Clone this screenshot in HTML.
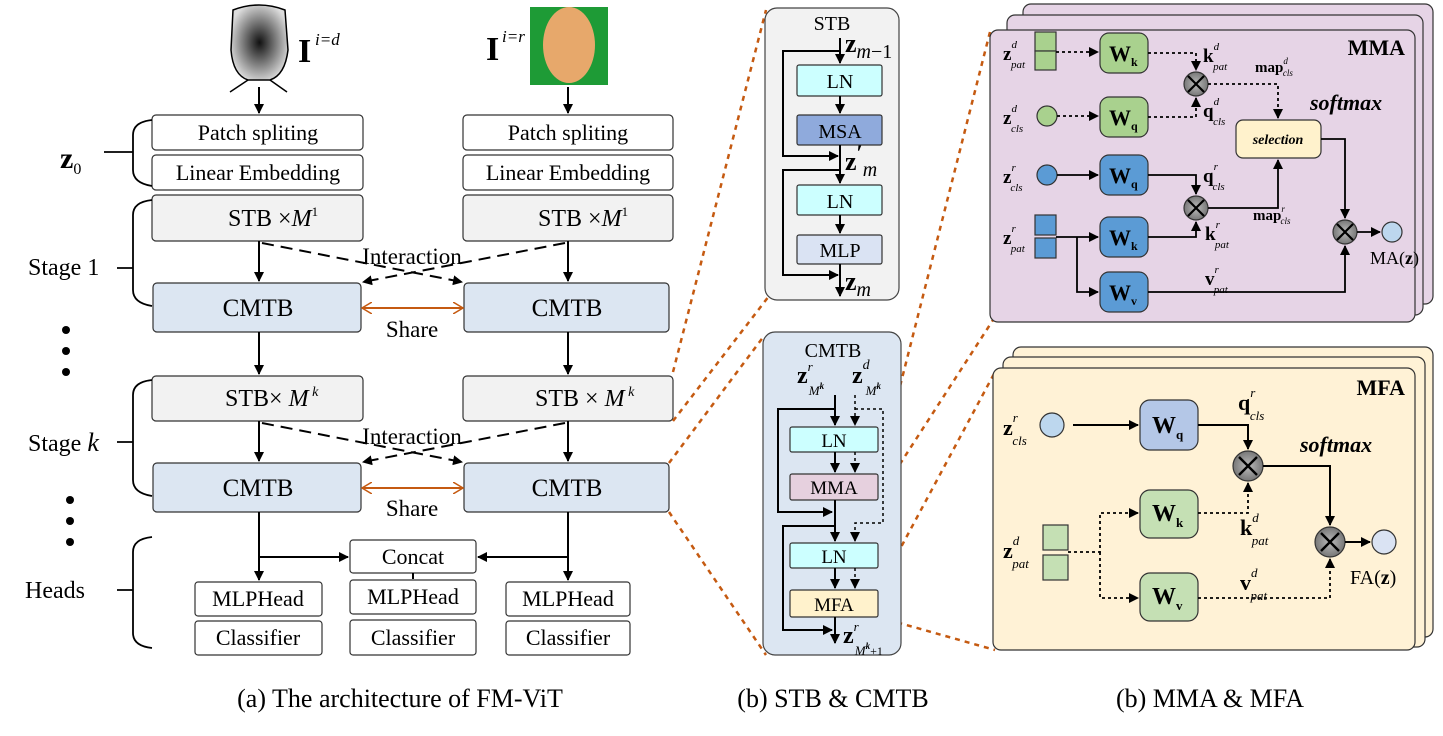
<!DOCTYPE html>
<html><head><meta charset="utf-8"><style>
html,body{margin:0;padding:0;background:#fff;}
svg{display:block;font-family:"Liberation Serif",serif;}
</style></head><body>
<svg width="1443" height="736" viewBox="0 0 1443 736" xmlns="http://www.w3.org/2000/svg">
<defs>
<marker id="a" markerWidth="10" markerHeight="10" refX="9" refY="5" orient="auto" markerUnits="userSpaceOnUse"><path d="M0,0 L10,5 L0,10 Z" fill="#000"/></marker>
<marker id="o" markerWidth="12" markerHeight="12" refX="10" refY="6" orient="auto-start-reverse" markerUnits="userSpaceOnUse"><path d="M0,0 L10,6 L0,12" fill="none" stroke="#c55a11" stroke-width="1.5"/></marker>
<radialGradient id="dg" cx="50%" cy="50%" r="55%"><stop offset="0" stop-color="#111"/><stop offset="0.5" stop-color="#777"/><stop offset="1" stop-color="#ddd"/></radialGradient>
<radialGradient id="cg"><stop offset="0" stop-color="#bbb"/><stop offset="1" stop-color="#777"/></radialGradient>
</defs>

<!-- faces -->
<path d="M233,10 Q259,0 285,10 L288,50 Q285,75 270,80 L248,80 Q233,75 231,50 Z" fill="url(#dg)" stroke="#000" stroke-width="1.5"/>
<path d="M248,80 L230,92 M270,80 L287,92" stroke="#000" stroke-width="1.5"/>
<rect x="530" y="7" width="78" height="78" fill="#1e9b36"/>
<ellipse cx="569" cy="45" rx="26" ry="38" fill="#e7a86b"/>
<text x="298" y="62" font-size="34" font-weight="bold">I</text><text x="315" y="45" font-size="17" font-style="italic">i=d</text>
<text x="486" y="60" font-size="34" font-weight="bold">I</text><text x="502" y="42" font-size="17" font-style="italic">i=r</text>

<g stroke="#000" stroke-width="2" fill="none">
<line x1="259" y1="87" x2="259" y2="113" marker-end="url(#a)"/>
<line x1="568" y1="87" x2="568" y2="113" marker-end="url(#a)"/>
</g>

<g stroke="#333" stroke-width="1.2">
<rect x="152" y="115" width="211" height="35" rx="4" fill="#fff"/>
<rect x="152" y="155" width="211" height="35" rx="4" fill="#fff"/>
<rect x="463" y="115" width="210" height="35" rx="4" fill="#fff"/>
<rect x="463" y="155" width="210" height="35" rx="4" fill="#fff"/>
<rect x="152" y="195" width="211" height="46" rx="4" fill="#f2f2f2"/>
<rect x="463" y="195" width="210" height="46" rx="4" fill="#f2f2f2"/>
<rect x="153" y="283" width="208" height="49" rx="4" fill="#dce6f2"/>
<rect x="464" y="283" width="205" height="49" rx="4" fill="#dce6f2"/>
<rect x="152" y="376" width="211" height="45" rx="4" fill="#f2f2f2"/>
<rect x="463" y="376" width="210" height="45" rx="4" fill="#f2f2f2"/>
<rect x="153" y="463" width="208" height="49" rx="4" fill="#dce6f2"/>
<rect x="464" y="463" width="205" height="49" rx="4" fill="#dce6f2"/>
<rect x="350" y="540" width="126" height="33" rx="3" fill="#fff"/>
<rect x="195" y="582" width="127" height="34" rx="3" fill="#fff"/>
<rect x="350" y="580" width="126" height="34" rx="3" fill="#fff"/>
<rect x="506" y="582" width="124" height="34" rx="3" fill="#fff"/>
<rect x="195" y="621" width="127" height="34" rx="3" fill="#fff"/>
<rect x="350" y="620" width="126" height="35" rx="3" fill="#fff"/>
<rect x="506" y="621" width="124" height="34" rx="3" fill="#fff"/>
</g>

<g font-size="22" text-anchor="middle">
<text x="258" y="140">Patch spliting</text>
<text x="258" y="180">Linear Embedding</text>
<text x="568" y="140">Patch spliting</text>
<text x="568" y="180">Linear Embedding</text>
<text x="258" y="316" font-size="25">CMTB</text>
<text x="567" y="316" font-size="25">CMTB</text>
<text x="258" y="496" font-size="25">CMTB</text>
<text x="567" y="496" font-size="25">CMTB</text>
<text x="413" y="564">Concat</text>
<text x="258" y="606">MLPHead</text>
<text x="413" y="604">MLPHead</text>
<text x="568" y="606">MLPHead</text>
<text x="258" y="645">Classifier</text>
<text x="413" y="645">Classifier</text>
<text x="568" y="645">Classifier</text>
<text x="412" y="264" font-size="23">Interaction</text>
<text x="412" y="444" font-size="23">Interaction</text>
<text x="412" y="337" font-size="23">Share</text>
<text x="412" y="516" font-size="23">Share</text>
</g>
<g font-size="24">
<text x="228" y="226">STB <tspan>×</tspan><tspan font-style="italic">M</tspan><tspan font-size="13" dy="-10">1</tspan></text>
<text x="538" y="226">STB <tspan>×</tspan><tspan font-style="italic">M</tspan><tspan font-size="13" dy="-10">1</tspan></text>
<text x="225" y="406">STB<tspan>× </tspan><tspan font-style="italic">M</tspan><tspan font-size="14" dy="-10" font-style="italic"> k</tspan></text>
<text x="535" y="406">STB <tspan>× </tspan><tspan font-style="italic">M</tspan><tspan font-size="14" dy="-10" font-style="italic"> k</tspan></text>
<text x="60" y="168" font-size="30" font-weight="bold">z<tspan font-size="16" font-weight="normal" dy="6">0</tspan></text>
<text x="28" y="275">Stage 1</text>
<text x="28" y="451">Stage <tspan font-style="italic" font-size="26">k</tspan></text>
<text x="25" y="598">Heads</text>
</g>

<!-- braces -->
<g stroke="#000" stroke-width="1.8" fill="none">
<path d="M104,152 L133,152 M152,120 Q133,122 133,135 L133,170 Q133,183 152,186"/>
<path d="M117,268 L133,268 M152,200 Q133,202 133,215 L133,290 Q133,303 152,306"/>
<path d="M117,442 L133,442 M152,380 Q133,382 133,395 L133,480 Q133,493 152,496"/>
<path d="M117,590 L133,590 M152,537 Q133,539 133,552 L133,633 Q133,646 152,648"/>
</g>
<g fill="#000">
<circle cx="66" cy="330" r="4"/><circle cx="66" cy="351" r="4"/><circle cx="66" cy="372" r="4"/>
<circle cx="70" cy="500" r="4"/><circle cx="70" cy="521" r="4"/><circle cx="70" cy="542" r="4"/>
</g>

<g stroke="#000" stroke-width="2" fill="none">
<line x1="259" y1="241" x2="259" y2="281" marker-end="url(#a)"/>
<line x1="568" y1="241" x2="568" y2="281" marker-end="url(#a)"/>
<line x1="259" y1="332" x2="259" y2="374" marker-end="url(#a)"/>
<line x1="568" y1="332" x2="568" y2="374" marker-end="url(#a)"/>
<line x1="259" y1="421" x2="259" y2="461" marker-end="url(#a)"/>
<line x1="568" y1="421" x2="568" y2="461" marker-end="url(#a)"/>
<polyline points="259,512 259,557 348,557" marker-end="url(#a)"/>
<polyline points="568,512 568,557 478,557" marker-end="url(#a)"/>
<line x1="259" y1="557" x2="259" y2="580" marker-end="url(#a)"/>
<line x1="568" y1="557" x2="568" y2="580" marker-end="url(#a)"/>
<line x1="413" y1="573" x2="413" y2="579"/>
</g>
<g stroke="#000" stroke-width="2" fill="none" stroke-dasharray="12,7">
<line x1="262" y1="243" x2="462" y2="282" marker-end="url(#a)"/>
<line x1="565" y1="243" x2="363" y2="282" marker-end="url(#a)"/>
<line x1="262" y1="423" x2="462" y2="462" marker-end="url(#a)"/>
<line x1="565" y1="423" x2="363" y2="462" marker-end="url(#a)"/>
</g>
<g stroke="#c55a11" stroke-width="2">
<line x1="362" y1="308" x2="463" y2="308" marker-start="url(#o)" marker-end="url(#o)"/>
<line x1="362" y1="488" x2="463" y2="488" marker-start="url(#o)" marker-end="url(#o)"/>
</g>

<!-- orange dotted zoom connectors -->
<g stroke="#c55a11" stroke-width="2.5" stroke-dasharray="5,5" fill="none">
<line x1="673" y1="372" x2="766" y2="10"/>
<line x1="673" y1="421" x2="769" y2="296"/>
<line x1="669" y1="463" x2="764" y2="336"/>
<line x1="669" y1="512" x2="766" y2="655"/>
<line x1="878" y1="473" x2="991" y2="28"/>
<line x1="878" y1="498" x2="993" y2="320"/>
<line x1="878" y1="590" x2="995" y2="372"/>
<line x1="878" y1="617" x2="995" y2="650"/>
</g>

<!-- STB panel -->
<rect x="765" y="8" width="134" height="292" rx="12" fill="#f2f2f2" stroke="#444" stroke-width="1.2"/>
<text x="832" y="30" font-size="20" text-anchor="middle">STB</text>
<g stroke="#333" stroke-width="1.2">
<rect x="797" y="65" width="85" height="31" rx="2" fill="#ccffff"/>
<rect x="797" y="115" width="85" height="30" rx="2" fill="#8faadc"/>
<rect x="797" y="185" width="85" height="30" rx="2" fill="#ccffff"/>
<rect x="797" y="235" width="85" height="29" rx="2" fill="#dae3f3"/>
</g>
<g font-size="20" text-anchor="middle">
<text x="840" y="88">LN</text><text x="840" y="138">MSA</text><text x="840" y="208">LN</text><text x="840" y="257">MLP</text>
</g>
<g stroke="#000" stroke-width="2" fill="none">
<line x1="840" y1="38" x2="840" y2="63" marker-end="url(#a)"/>
<line x1="840" y1="96" x2="840" y2="113" marker-end="url(#a)"/>
<line x1="840" y1="145" x2="840" y2="183" marker-end="url(#a)"/>
<line x1="840" y1="215" x2="840" y2="233" marker-end="url(#a)"/>
<line x1="840" y1="264" x2="840" y2="296" marker-end="url(#a)"/>
<polyline points="840,51 783,51 783,156 838,156" marker-end="url(#a)"/>
<polyline points="840,170 783,170 783,275 838,275" marker-end="url(#a)"/>
</g>
<text x="845" y="52" font-size="26" font-weight="bold">z<tspan font-size="20" font-weight="normal" font-style="italic" dy="6">m</tspan><tspan font-size="20" font-weight="normal" dy="0">−1</tspan></text>
<text x="845" y="170" font-size="26" font-weight="bold">z<tspan font-size="22" dy="-10">′</tspan><tspan font-size="20" font-weight="normal" font-style="italic" dy="16">m</tspan></text>
<text x="845" y="290" font-size="26" font-weight="bold">z<tspan font-size="20" font-weight="normal" font-style="italic" dy="6">m</tspan></text>

<!-- CMTB panel -->
<rect x="763" y="332" width="138" height="323" rx="12" fill="#dce6f2" stroke="#444" stroke-width="1.2"/>
<text x="833" y="357" font-size="20" text-anchor="middle">CMTB</text>
<text x="797" y="383" font-size="24" font-weight="bold">z<tspan font-size="13" font-weight="normal" font-style="italic" dy="-12">r</tspan><tspan font-size="13" font-weight="normal" font-style="italic" dx="-4" dy="24">M</tspan><tspan font-size="9" font-style="italic" dy="-6">k</tspan></text>
<text x="852" y="383" font-size="24" font-weight="bold">z<tspan font-size="14" font-weight="normal" font-style="italic" dy="-14">d</tspan><tspan font-size="13" font-weight="normal" font-style="italic" dx="-4" dy="26">M</tspan><tspan font-size="9" font-style="italic" dy="-6">k</tspan></text>
<g stroke="#333" stroke-width="1.2">
<rect x="790" y="427" width="88" height="25" rx="2" fill="#ccffff"/>
<rect x="790" y="474" width="88" height="26" rx="2" fill="#e6d0de"/>
<rect x="790" y="543" width="88" height="25" rx="2" fill="#ccffff"/>
<rect x="790" y="590" width="88" height="27" rx="2" fill="#fff2cc"/>
</g>
<g font-size="19" text-anchor="middle">
<text x="834" y="447">LN</text><text x="834" y="494">MMA</text><text x="834" y="563">LN</text><text x="834" y="611">MFA</text>
</g>
<g stroke="#000" stroke-width="2" fill="none">
<line x1="835" y1="395" x2="835" y2="425" marker-end="url(#a)"/>
<line x1="835" y1="452" x2="835" y2="472" marker-end="url(#a)"/>
<line x1="835" y1="500" x2="835" y2="541" marker-end="url(#a)"/>
<line x1="835" y1="568" x2="835" y2="588" marker-end="url(#a)"/>
<line x1="835" y1="617" x2="835" y2="643" marker-end="url(#a)"/>
<polyline points="835,409 778,409 778,512 832,512" marker-end="url(#a)"/>
<polyline points="835,526 783,526 783,630 832,630" marker-end="url(#a)"/>
</g>
<g stroke="#000" stroke-width="1.5" fill="none" stroke-dasharray="3,3">
<line x1="855" y1="395" x2="855" y2="425" marker-end="url(#a)"/>
<polyline points="855,409 883,409 883,523 855,523 855,541" marker-end="url(#a)"/>
<line x1="855" y1="452" x2="855" y2="472" marker-end="url(#a)"/>
<line x1="855" y1="568" x2="855" y2="588" marker-end="url(#a)"/>
</g>
<text x="843" y="643" font-size="24" font-weight="bold">z<tspan font-size="13" font-weight="normal" font-style="italic" dy="-12">r</tspan><tspan font-size="13" font-weight="normal" font-style="italic" dx="-4" dy="24">M</tspan><tspan font-size="9" font-style="italic" dy="-6">k</tspan><tspan font-size="12" font-weight="normal" dy="6">+1</tspan></text>

<!-- MMA panel -->
<g stroke="#333" stroke-width="1.2" fill="#e6d4e6">
<rect x="1023" y="4" width="410" height="300" rx="8"/>
<rect x="1007" y="15" width="416" height="300" rx="8"/>
<rect x="990" y="30" width="425" height="292" rx="8"/>
</g>
<text x="1405" y="55" font-size="22" font-weight="bold" text-anchor="end">MMA</text>
<text x="1310" y="110" font-size="22" font-weight="bold" font-style="italic">softmax</text>
<g stroke="#333" stroke-width="1.2">
<rect x="1035" y="32" width="21" height="19" fill="#a9d18e"/><rect x="1035" y="51" width="21" height="19" fill="#a9d18e"/>
<circle cx="1047" cy="116" r="10" fill="#a9d18e"/>
<circle cx="1047" cy="175" r="10" fill="#5b9bd5"/>
<rect x="1035" y="215" width="21" height="20" fill="#5b9bd5"/><rect x="1035" y="238" width="21" height="20" fill="#5b9bd5"/>
<rect x="1100" y="33" width="48" height="40" rx="9" fill="#a9d18e"/>
<rect x="1100" y="97" width="48" height="40" rx="9" fill="#a9d18e"/>
<rect x="1100" y="155" width="48" height="40" rx="9" fill="#5b9bd5"/>
<rect x="1100" y="217" width="48" height="40" rx="9" fill="#5b9bd5"/>
<rect x="1100" y="272" width="48" height="40" rx="9" fill="#5b9bd5"/>
<rect x="1236" y="120" width="85" height="38" rx="7" fill="#fff2cc"/>
<circle cx="1196" cy="84" r="12" fill="url(#cg)"/>
<circle cx="1196" cy="208" r="12" fill="url(#cg)"/>
<circle cx="1345" cy="232" r="12" fill="url(#cg)"/>
<circle cx="1392" cy="232" r="10" fill="#bdd7ee"/>
</g>
<g stroke="#000" stroke-width="2.2">
<path d="M1188,76 L1204,92 M1204,76 L1188,92"/>
<path d="M1188,200 L1204,216 M1204,200 L1188,216"/>
<path d="M1337,224 L1353,240 M1353,224 L1337,240"/>
</g>
<g font-size="22" font-weight="bold">
<text x="1109" y="61">W<tspan font-size="12" dy="5">k</tspan></text>
<text x="1109" y="125">W<tspan font-size="12" dy="5">q</tspan></text>
<text x="1109" y="183">W<tspan font-size="12" dy="5">q</tspan></text>
<text x="1109" y="245">W<tspan font-size="12" dy="5">k</tspan></text>
<text x="1109" y="300">W<tspan font-size="12" dy="5">v</tspan></text>
</g>
<text x="1278" y="144" font-size="14" font-weight="bold" font-style="italic" text-anchor="middle">selection</text>
<g stroke="#000" stroke-width="1.8" fill="none" stroke-dasharray="3,3">
<line x1="1056" y1="52" x2="1098" y2="52" marker-end="url(#a)"/>
<line x1="1057" y1="116" x2="1098" y2="116" marker-end="url(#a)"/>
<polyline points="1148,53 1196,53 1196,70" marker-end="url(#a)"/>
<polyline points="1148,117 1196,117 1196,98" marker-end="url(#a)"/>
<polyline points="1208,84 1278,84 1278,118" marker-end="url(#a)"/>
</g>
<g stroke="#000" stroke-width="1.8" fill="none">
<line x1="1057" y1="175" x2="1098" y2="175" marker-end="url(#a)"/>
<polyline points="1148,175 1196,175 1196,194" marker-end="url(#a)"/>
<polyline points="1148,237 1196,237 1196,222" marker-end="url(#a)"/>
<line x1="1056" y1="237" x2="1098" y2="237" marker-end="url(#a)"/>
<polyline points="1077,237 1077,292 1098,292" marker-end="url(#a)"/>
<polyline points="1208,208 1278,208 1278,160" marker-end="url(#a)"/>
<polyline points="1321,139 1345,139 1345,218" marker-end="url(#a)"/>
<polyline points="1148,292 1345,292 1345,246" marker-end="url(#a)"/>
<line x1="1357" y1="232" x2="1380" y2="232" marker-end="url(#a)"/>
</g>
<g font-size="19" font-weight="bold">
<text x="1003" y="60">z<tspan font-size="11" font-weight="normal" font-style="italic" dy="-12">d</tspan><tspan font-size="11" font-weight="normal" font-style="italic" dx="-6" dy="20">pat</tspan></text>
<text x="1003" y="124">z<tspan font-size="11" font-weight="normal" font-style="italic" dy="-12">d</tspan><tspan font-size="11" font-weight="normal" font-style="italic" dx="-6" dy="20">cls</tspan></text>
<text x="1003" y="183">z<tspan font-size="11" font-weight="normal" font-style="italic" dy="-12">r</tspan><tspan font-size="11" font-weight="normal" font-style="italic" dx="-5" dy="20">cls</tspan></text>
<text x="1003" y="244">z<tspan font-size="11" font-weight="normal" font-style="italic" dy="-12">r</tspan><tspan font-size="11" font-weight="normal" font-style="italic" dx="-5" dy="20">pat</tspan></text>
<text x="1203" y="62">k<tspan font-size="11" font-weight="normal" font-style="italic" dy="-12">d</tspan><tspan font-size="11" font-weight="normal" font-style="italic" dx="-6" dy="20">pat</tspan></text>
<text x="1203" y="117">q<tspan font-size="11" font-weight="normal" font-style="italic" dy="-12">d</tspan><tspan font-size="11" font-weight="normal" font-style="italic" dx="-6" dy="20">cls</tspan></text>
<text x="1203" y="182">q<tspan font-size="11" font-weight="normal" font-style="italic" dy="-12">r</tspan><tspan font-size="11" font-weight="normal" font-style="italic" dx="-5" dy="20">cls</tspan></text>
<text x="1205" y="240">k<tspan font-size="11" font-weight="normal" font-style="italic" dy="-12">r</tspan><tspan font-size="11" font-weight="normal" font-style="italic" dx="-5" dy="20">pat</tspan></text>
<text x="1205" y="285">v<tspan font-size="11" font-weight="normal" font-style="italic" dy="-12">r</tspan><tspan font-size="11" font-weight="normal" font-style="italic" dx="-5" dy="20">pat</tspan></text>
<text x="1255" y="72" font-size="15">map<tspan font-size="9" font-weight="normal" font-style="italic" dy="-8">d</tspan><tspan font-size="9" font-weight="normal" font-style="italic" dx="-5" dy="12">cls</tspan></text>
<text x="1253" y="220" font-size="15">map<tspan font-size="9" font-weight="normal" font-style="italic" dy="-8">r</tspan><tspan font-size="9" font-weight="normal" font-style="italic" dx="-4" dy="12">cls</tspan></text>
</g>
<text x="1370" y="264" font-size="18">MA(<tspan font-weight="bold">z</tspan>)</text>

<!-- MFA panel -->
<g stroke="#333" stroke-width="1.2" fill="#fff2d6">
<rect x="1013" y="347" width="420" height="290" rx="8"/>
<rect x="1003" y="357" width="422" height="290" rx="8"/>
<rect x="993" y="368" width="422" height="282" rx="8"/>
</g>
<text x="1405" y="395" font-size="22" font-weight="bold" text-anchor="end">MFA</text>
<text x="1300" y="452" font-size="22" font-weight="bold" font-style="italic">softmax</text>
<g stroke="#333" stroke-width="1.2">
<circle cx="1052" cy="425" r="12" fill="#bdd7ee"/>
<rect x="1043" y="525" width="25" height="25" fill="#c5e0b4"/><rect x="1043" y="555" width="25" height="25" fill="#c5e0b4"/>
<rect x="1140" y="400" width="58" height="50" rx="10" fill="#b4c7e7"/>
<rect x="1140" y="490" width="58" height="48" rx="10" fill="#c5e0b4"/>
<rect x="1140" y="573" width="58" height="48" rx="10" fill="#c5e0b4"/>
<circle cx="1248" cy="466" r="15" fill="url(#cg)"/>
<circle cx="1330" cy="542" r="15" fill="url(#cg)"/>
<circle cx="1384" cy="542" r="12" fill="#dae3f3"/>
</g>
<g stroke="#000" stroke-width="2.4">
<path d="M1239,457 L1257,475 M1257,457 L1239,475"/>
<path d="M1321,533 L1339,551 M1339,533 L1321,551"/>
</g>
<g font-size="24" font-weight="bold">
<text x="1152" y="433">W<tspan font-size="13" dy="6">q</tspan></text>
<text x="1152" y="521">W<tspan font-size="13" dy="6">k</tspan></text>
<text x="1152" y="604">W<tspan font-size="13" dy="6">v</tspan></text>
</g>
<g stroke="#000" stroke-width="2" fill="none">
<line x1="1073" y1="425" x2="1138" y2="425" marker-end="url(#a)"/>
<polyline points="1198,425 1248,425 1248,449" marker-end="url(#a)"/>
<polyline points="1263,466 1330,466 1330,525" marker-end="url(#a)"/>
<line x1="1345" y1="542" x2="1370" y2="542" marker-end="url(#a)"/>
</g>
<g stroke="#000" stroke-width="1.8" fill="none" stroke-dasharray="3,3">
<polyline points="1068,552 1100,552 1100,513 1138,513" marker-end="url(#a)"/>
<polyline points="1100,552 1100,598 1138,598" marker-end="url(#a)"/>
<polyline points="1198,513 1248,513 1248,483" marker-end="url(#a)"/>
<polyline points="1198,598 1330,598 1330,559" marker-end="url(#a)"/>
</g>
<g font-size="22" font-weight="bold">
<text x="1003" y="435">z<tspan font-size="13" font-weight="normal" font-style="italic" dy="-13">r</tspan><tspan font-size="13" font-weight="normal" font-style="italic" dx="-5" dy="23">cls</tspan></text>
<text x="1003" y="558">z<tspan font-size="13" font-weight="normal" font-style="italic" dy="-13">d</tspan><tspan font-size="13" font-weight="normal" font-style="italic" dx="-7" dy="23">pat</tspan></text>
<text x="1238" y="410">q<tspan font-size="13" font-weight="normal" font-style="italic" dy="-13">r</tspan><tspan font-size="13" font-weight="normal" font-style="italic" dx="-5" dy="23">cls</tspan></text>
<text x="1240" y="535">k<tspan font-size="13" font-weight="normal" font-style="italic" dy="-13">d</tspan><tspan font-size="13" font-weight="normal" font-style="italic" dx="-7" dy="23">pat</tspan></text>
<text x="1240" y="590">v<tspan font-size="13" font-weight="normal" font-style="italic" dy="-13">d</tspan><tspan font-size="13" font-weight="normal" font-style="italic" dx="-7" dy="23">pat</tspan></text>
</g>
<text x="1350" y="584" font-size="20">FA(<tspan font-weight="bold">z</tspan>)</text>

<!-- captions -->
<g font-size="26" text-anchor="middle">
<text x="400" y="707">(a) The architecture of FM-ViT</text>
<text x="833" y="707">(b) STB &amp; CMTB</text>
<text x="1210" y="707">(b) MMA &amp; MFA</text>
</g>
</svg>
</body></html>
